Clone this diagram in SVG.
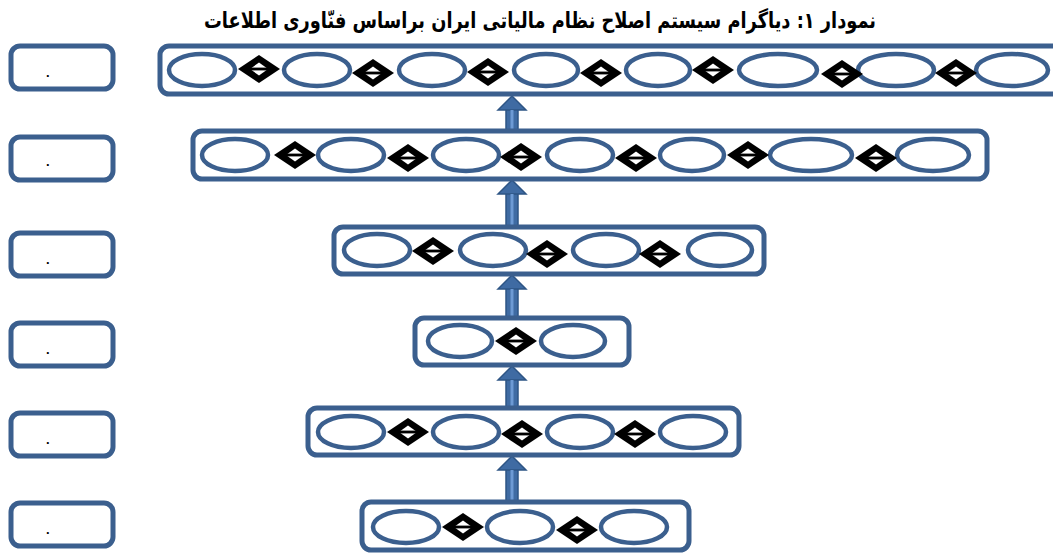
<svg xmlns="http://www.w3.org/2000/svg" width="1053" height="554" viewBox="0 0 1053 554">
<style>
.box{fill:#fff;stroke:#3b5f8e;stroke-width:5}
.side{fill:#fff;stroke:#3b5f8e;stroke-width:5}
.el{fill:#fff;stroke:#3b5f8e;stroke-width:4.5}
.dot{font-family:"Liberation Sans",sans-serif;font-weight:bold;font-size:13px;fill:#000}
.title{font-family:"DejaVu Sans",sans-serif;font-weight:bold;font-size:22px;fill:#000}
.ah{fill:#3f6ba3;stroke:#2e5585;stroke-width:1.5}
.as{fill:#6d9ad4}
</style>
<defs>
<g id="dia">
<polygon points="-21,0 0,-14 21,0 0,14" fill="#000"/>
<polygon points="-9,0 0,-6.5 9,0 0,6.5" fill="#fff"/>
<rect x="-10" y="-1.4" width="20" height="2.8" fill="#000"/>
</g>
<polygon id="head" points="-14,14 0,0 14,14"/>
</defs>
<text class="title" x="540" y="28" text-anchor="middle" direction="rtl" textLength="672" lengthAdjust="spacingAndGlyphs">نمودار ۱: دیاگرام سیستم اصلاح نظام مالیاتی ایران براساس فنّاوری اطلاعات</text>

<g id="connectors">
<g><rect class="ah" x="506" y="108" width="12" height="22"/><use href="#head" class="ah" x="512" y="96"/><rect class="as" x="510.5" y="110" width="3" height="20"/></g>
<g><rect class="ah" x="506" y="192" width="12" height="34"/><use href="#head" class="ah" x="512" y="180"/><rect class="as" x="510.5" y="194" width="3" height="32"/></g>
<g><rect class="ah" x="506" y="287" width="12" height="30"/><use href="#head" class="ah" x="512" y="275"/><rect class="as" x="510.5" y="289" width="3" height="28"/></g>
<g><rect class="ah" x="506" y="378" width="12" height="29"/><use href="#head" class="ah" x="512" y="366"/><rect class="as" x="510.5" y="380" width="3" height="27"/></g>
<g><rect class="ah" x="506" y="468" width="12" height="34"/><use href="#head" class="ah" x="512" y="456"/><rect class="as" x="510.5" y="470" width="3" height="32"/></g>
</g>

<g id="labels">
<g id="lab1"><rect class="side" x="11" y="46" width="102" height="43" rx="9"/><text class="dot" x="46" y="77">.</text></g>
<g id="lab2"><rect class="side" x="11" y="137" width="102" height="43" rx="9"/><text class="dot" x="46" y="166">.</text></g>
<g id="lab3"><rect class="side" x="11" y="233" width="102" height="43" rx="9"/><text class="dot" x="46" y="264">.</text></g>
<g id="lab4"><rect class="side" x="11" y="323" width="102" height="43" rx="9"/><text class="dot" x="46" y="354">.</text></g>
<g id="lab5"><rect class="side" x="11" y="413" width="102" height="43" rx="9"/><text class="dot" x="46" y="444">.</text></g>
<g id="lab6"><rect class="side" x="11" y="503" width="102" height="43" rx="9"/><text class="dot" x="46" y="534">.</text></g>
</g>

<g id="row1">
<rect class="box" x="160" y="46" width="910" height="48" rx="9"/>
<ellipse class="el" cx="202" cy="70" rx="33" ry="16"/>
<ellipse class="el" cx="317" cy="70" rx="33" ry="16"/>
<ellipse class="el" cx="432" cy="70" rx="33" ry="16"/>
<ellipse class="el" cx="546" cy="70" rx="32" ry="16"/>
<ellipse class="el" cx="658" cy="70" rx="32" ry="16"/>
<ellipse class="el" cx="778" cy="70" rx="39" ry="16"/>
<ellipse class="el" cx="896" cy="70" rx="38" ry="16"/>
<ellipse class="el" cx="1012" cy="70" rx="36" ry="16"/>
<use href="#dia" x="259" y="69"/>
<use href="#dia" x="373" y="73"/>
<use href="#dia" x="488" y="72"/>
<use href="#dia" x="601" y="73"/>
<use href="#dia" x="713" y="70"/>
<use href="#dia" x="842" y="74"/>
<use href="#dia" x="956" y="73"/>
</g>

<g id="row2">
<rect class="box" x="193" y="131" width="794" height="48" rx="9"/>
<ellipse class="el" cx="235" cy="155" rx="33" ry="16"/>
<ellipse class="el" cx="351" cy="155" rx="33" ry="16"/>
<ellipse class="el" cx="466" cy="155" rx="33" ry="16"/>
<ellipse class="el" cx="580" cy="155" rx="33" ry="16"/>
<ellipse class="el" cx="692" cy="155" rx="32" ry="16"/>
<ellipse class="el" cx="811" cy="155" rx="41" ry="16"/>
<ellipse class="el" cx="933" cy="155" rx="36" ry="16"/>
<use href="#dia" x="295" y="155"/>
<use href="#dia" x="408" y="158"/>
<use href="#dia" x="521" y="157"/>
<use href="#dia" x="636" y="158"/>
<use href="#dia" x="748" y="155"/>
<use href="#dia" x="876" y="158"/>
</g>

<g id="row3">
<rect class="box" x="334" y="227" width="430" height="47" rx="9"/>
<ellipse class="el" cx="377" cy="250" rx="33" ry="16"/>
<ellipse class="el" cx="493" cy="250" rx="33" ry="16"/>
<ellipse class="el" cx="606" cy="250" rx="33" ry="16"/>
<ellipse class="el" cx="720" cy="250" rx="32" ry="16"/>
<use href="#dia" x="433" y="251"/>
<use href="#dia" x="547" y="254"/>
<use href="#dia" x="660" y="254"/>
</g>

<g id="row4">
<rect class="box" x="415" y="318" width="214" height="47" rx="9"/>
<ellipse class="el" cx="460" cy="341" rx="32" ry="16"/>
<ellipse class="el" cx="573" cy="341" rx="32" ry="16"/>
<use href="#dia" x="516" y="341"/>
</g>

<g id="row5">
<rect class="box" x="308" y="408" width="431" height="47" rx="9"/>
<ellipse class="el" cx="351" cy="432" rx="33" ry="16"/>
<ellipse class="el" cx="466" cy="432" rx="33" ry="16"/>
<ellipse class="el" cx="580" cy="432" rx="33" ry="16"/>
<ellipse class="el" cx="693" cy="432" rx="33" ry="16"/>
<use href="#dia" x="408" y="432"/>
<use href="#dia" x="522" y="434"/>
<use href="#dia" x="635" y="434"/>
</g>

<g id="row6">
<rect class="box" x="362" y="502" width="327" height="48" rx="9"/>
<ellipse class="el" cx="406" cy="527" rx="33" ry="16"/>
<ellipse class="el" cx="520" cy="527" rx="33" ry="16"/>
<ellipse class="el" cx="634" cy="527" rx="33" ry="16"/>
<use href="#dia" x="463" y="527"/>
<use href="#dia" x="577" y="530"/>
</g>
</svg>
